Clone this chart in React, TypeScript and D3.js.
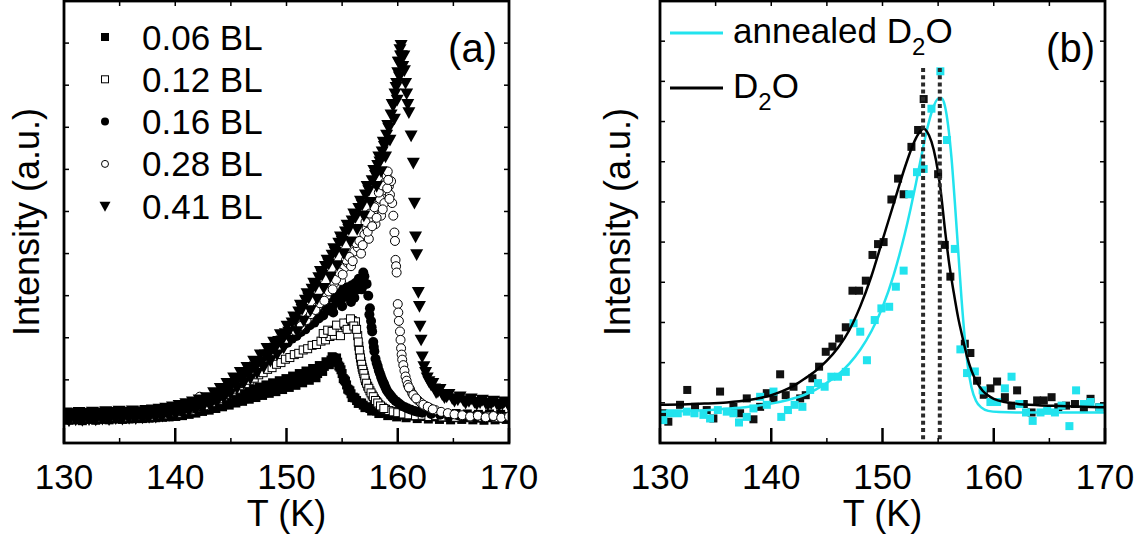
import React from 'react';
import * as d3 from 'd3';

const W = 1138;
const H = 535;
const FONT = '"Liberation Sans", Arial, Helvetica, sans-serif';
const CYAN = '#22e3ee';

const xTicksMajor = [130, 140, 150, 160, 170];
const xTicksMinor = [135, 145, 155, 165];
const legendA = ['0.06 BL', '0.12 BL', '0.16 BL', '0.28 BL', '0.41 BL'];
const markerKinds = ['sqFill', 'sqOpen', 'circFill', 'circOpen', 'triDown'];
const peakLinesB = [153.65, 155.15];

// Panel (a) TPD series: [T (K), intensity (a.u.)]
const s006: [number, number][] = [
  [130.0,0.10],[130.3,0.16],[130.6,0.08],[130.9,0.14],[131.2,0.11],[131.5,0.17],[131.8,0.09],[132.1,0.13],[132.4,0.16],[132.7,0.08],
  [133.0,0.12],[133.3,0.17],[133.6,0.10],[133.9,0.14],[134.2,0.09],[134.5,0.16],[134.8,0.12],[135.1,0.18],[135.4,0.10],[135.7,0.15],
  [136.0,0.12],[136.3,0.19],[136.6,0.11],[136.9,0.16],[137.2,0.13],[137.5,0.20],[137.8,0.12],[138.1,0.18],[138.4,0.14],[138.7,0.21],
  [139.0,0.15],[139.3,0.20],[139.6,0.16],[139.9,0.23],[140.2,0.17],[140.5,0.24],[140.8,0.20],[141.1,0.27],[141.4,0.22],[141.7,0.30],
  [142.0,0.26],[142.3,0.33],[142.6,0.29],[142.9,0.37],[143.2,0.33],[143.5,0.41],[143.8,0.37],[144.1,0.45],[144.4,0.41],[144.7,0.50],
  [145.0,0.46],[145.3,0.54],[145.6,0.50],[145.9,0.59],[146.2,0.55],[146.5,0.64],[146.8,0.59],[147.1,0.69],[147.4,0.64],[147.7,0.74],
  [148.0,0.69],[148.3,0.79],[148.6,0.74],[148.9,0.84],[149.2,0.79],[149.5,0.89],[149.8,0.84],[150.1,0.95],[150.4,0.90],[150.7,1.01],
  [151.0,0.96],[151.3,1.07],[151.6,1.02],[151.9,1.13],[152.2,1.08],[152.5,1.19],[152.8,1.15],[153.1,1.27],[153.4,1.32],[153.7,1.40],
  [154.0,1.47],[154.2,1.53],[154.4,1.49],[154.6,1.42],[154.8,1.30],[155.0,1.15],[155.2,1.00],[155.4,0.88],[155.6,0.76],[155.8,0.67],
  [156.0,0.59],[156.3,0.51],[156.6,0.45],[156.9,0.40],[157.2,0.35],[157.5,0.32],[157.8,0.29],[158.1,0.26],[158.5,0.24],[158.9,0.21],
  [159.3,0.22],[159.7,0.18],[160.1,0.20],[160.5,0.16],[161.0,0.18],[161.5,0.14],[162.0,0.17],[162.5,0.13],[163.0,0.16],[163.5,0.12],
  [164.0,0.15],[164.5,0.11],[165.0,0.14],[165.5,0.10],[166.0,0.15],[166.5,0.11],[167.0,0.13],[167.5,0.09],[168.0,0.14],[168.5,0.10],
  [169.0,0.13],[169.5,0.09],[170.0,0.12],
];
const s006x: [number, number][] = [
  [130.15,0.20],[130.45,0.04],[130.75,0.22],[131.05,0.05],[131.35,0.21],[131.65,0.03],[131.95,0.19],[132.25,0.06],[132.55,0.23],[132.85,0.04],
  [133.15,0.20],[133.45,0.06],[133.75,0.22],[134.05,0.05],[134.35,0.21],[134.65,0.07],[134.95,0.24],[135.25,0.06],[135.55,0.22],[135.85,0.07],
  [136.15,0.25],[136.45,0.08],[136.75,0.23],[137.05,0.08],[137.35,0.26],[137.65,0.09],[137.95,0.25],[138.25,0.10],[138.55,0.27],[138.85,0.11],
  [139.15,0.28],[139.45,0.12],[139.75,0.30],[140.05,0.13],[140.35,0.32],[140.65,0.15],[140.95,0.34],[141.25,0.18],[141.55,0.37],[141.85,0.21],
  [142.15,0.41],[142.45,0.25],[142.75,0.45],[143.05,0.28],[143.35,0.50],[143.65,0.32],[143.95,0.54],[144.25,0.36],[144.55,0.59],[144.85,0.40],
  [145.15,0.63],[145.45,0.45],[145.75,0.68],[146.05,0.49],[146.35,0.73],[146.65,0.54],[146.95,0.78],[147.25,0.58],[147.55,0.83],[147.85,0.63],
  [148.15,0.88],[148.45,0.68],[148.75,0.93],[149.05,0.72],[149.35,0.98],[149.65,0.77],[149.95,1.03],[150.25,0.82],[150.55,1.09],[150.85,0.87],
  [151.15,1.15],[151.45,0.93],[151.75,1.21],[152.05,0.99],[152.35,1.27],[152.65,1.05],[152.95,1.34],[153.25,1.20],[153.55,1.43],[153.85,1.36],
  [154.1,1.55],[154.3,1.42],[154.5,1.52],[154.7,1.33],[154.9,1.24],[155.1,1.03],[155.3,0.97],[155.5,0.78],[155.7,0.74],[155.9,0.58],
  [156.15,0.57],[156.45,0.44],[156.75,0.45],[157.05,0.34],[157.35,0.36],[157.65,0.26],[157.95,0.31],[158.3,0.20],[158.7,0.27],[159.1,0.15],
  [159.5,0.25],[159.9,0.12],[160.3,0.23],[160.75,0.10],[161.25,0.22],[161.75,0.08],[162.25,0.21],[162.75,0.07],[163.25,0.20],[163.75,0.06],
  [164.25,0.19],[164.75,0.05],[165.25,0.20],[165.75,0.06],[166.25,0.19],[166.75,0.05],[167.25,0.18],[167.75,0.04],[168.25,0.19],[168.75,0.05],
  [169.25,0.18],[169.75,0.06],
];

const s012: [number, number][] = [
  [130.1,0.14],[130.7,0.09],[131.3,0.15],[131.9,0.11],[132.5,0.17],[133.1,0.10],[133.7,0.15],[134.3,0.12],[134.9,0.18],[135.5,0.11],
  [136.1,0.16],[136.7,0.13],[137.3,0.19],[137.9,0.14],[138.5,0.20],[139.1,0.17],[139.7,0.22],[140.3,0.21],[140.9,0.27],[141.5,0.28],
  [142.1,0.34],[142.7,0.38],[143.3,0.46],[143.9,0.52],[144.3,0.60],[144.7,0.66],[145.1,0.73],[145.5,0.78],[145.9,0.86],[146.3,0.91],
  [146.7,0.99],[147.1,1.04],[147.5,1.12],[147.9,1.17],[148.3,1.25],[148.7,1.29],[149.1,1.37],[149.5,1.41],[149.9,1.49],[150.3,1.53],
  [150.7,1.60],[151.1,1.63],[151.5,1.71],[151.9,1.74],[152.3,1.82],[152.7,1.84],[153.1,1.92],[153.5,1.95],[153.9,2.03],[154.3,2.06],
  [154.7,2.15],[155.0,2.20],[155.3,2.28],[155.6,2.35],[155.9,2.41],[156.2,2.38],[156.4,2.05],[156.5,1.80],[156.6,1.60],[156.7,1.44],
  [156.8,1.30],[156.9,1.20],[157.0,1.10],[157.1,0.98],[157.3,0.85],[157.5,0.74],[157.7,0.64],[157.9,0.55],[158.1,0.48],[158.3,0.41],
  [158.6,0.35],[158.9,0.30],[159.2,0.27],[159.6,0.24],[160.0,0.22],[160.5,0.19],[161.0,0.17],[161.6,0.15],[162.2,0.16],[162.8,0.13],
  [163.4,0.15],[164.0,0.12],[164.6,0.14],[165.2,0.11],[165.8,0.14],[166.4,0.10],[167.0,0.13],[167.6,0.11],[168.2,0.14],[168.8,0.10],
  [169.4,0.13],[170.0,0.11],
];
const s012x: [number, number][] = [
  [153.3,2.10],[153.7,2.18],[154.1,2.15],[154.5,2.30],[154.85,2.05],[155.15,2.35],[155.45,2.20],[155.75,2.45],[156.05,2.28],[156.3,2.20],
  [156.45,1.90],[156.55,1.70],[156.65,1.52],[156.75,1.37],[156.85,1.25],[156.95,1.15],[157.05,1.04],[157.2,0.92],[157.4,0.80],[157.6,0.69],
  [157.8,0.60],[158.0,0.51],[158.2,0.45],[158.45,0.38],[158.75,0.32],
];

const s016: [number, number][] = [
  [130.2,0.12],[130.8,0.17],[131.4,0.10],[132.0,0.15],[132.6,0.12],[133.2,0.18],[133.8,0.11],[134.4,0.16],[135.0,0.13],[135.6,0.19],
  [136.2,0.12],[136.8,0.17],[137.4,0.14],[138.0,0.20],[138.6,0.16],[139.2,0.22],[139.8,0.20],[140.4,0.26],[141.0,0.27],[141.6,0.33],
  [142.2,0.37],[142.8,0.45],[143.4,0.52],[143.9,0.62],[144.4,0.70],[144.9,0.81],[145.3,0.88],[145.7,0.98],[146.1,1.05],[146.5,1.15],
  [146.9,1.22],[147.3,1.32],[147.7,1.39],[148.1,1.49],[148.5,1.56],[148.9,1.66],[149.3,1.72],[149.7,1.82],[150.1,1.88],[150.5,1.98],
  [150.9,2.04],[151.3,2.14],[151.7,2.20],[152.1,2.30],[152.5,2.36],[152.9,2.46],[153.3,2.53],[153.7,2.65],[154.1,2.72],[154.5,2.85],
  [154.9,2.90],[155.3,2.98],[155.7,3.02],[156.0,3.10],[156.3,3.14],[156.6,3.25],[156.8,3.36],[157.0,3.46],[157.2,3.28],[157.35,3.00],
  [157.5,2.70],[157.6,2.40],[157.7,2.15],[157.8,1.90],[157.9,1.68],[158.0,1.50],[158.2,1.32],[158.4,1.15],[158.6,1.00],[158.8,0.88],
  [159.0,0.76],[159.3,0.65],[159.6,0.55],[160.0,0.46],[160.4,0.38],[160.9,0.32],[161.5,0.26],[162.2,0.22],[163.0,0.19],[163.8,0.17],
  [164.6,0.14],[165.4,0.16],[166.2,0.12],[167.0,0.15],[167.8,0.11],[168.6,0.14],[169.4,0.10],[170.0,0.13],
];
const s016x: [number, number][] = [
  [143.1,0.50],[143.6,0.58],[144.1,0.68],[144.6,0.78],[145.1,0.86],[145.5,0.96],[145.9,1.04],[146.3,1.13],[146.7,1.22],[147.1,1.30],
  [147.5,1.40],[147.9,1.47],[148.3,1.56],[148.7,1.64],[149.1,1.74],[149.5,1.80],[149.9,1.92],[150.3,1.97],[150.7,2.08],[151.1,2.12],
  [151.5,2.24],[151.9,2.28],[152.3,2.55],[152.7,2.60],[153.1,2.75],[153.5,2.80],[153.9,2.95],[154.2,2.60],[154.3,3.00],[154.7,3.05],
  [155.0,2.75],[155.1,3.15],[155.5,3.20],[155.8,2.85],[155.9,3.25],[156.1,2.95],[156.2,3.30],[156.5,3.40],[156.75,3.15],[156.9,3.55],
  [157.45,2.55],[157.65,2.25],[157.85,1.78],[158.1,1.40],[158.3,1.22],[158.5,1.07],[158.7,0.94],[158.9,0.82],[159.15,0.70],[159.45,0.60],
  [159.8,0.50],[160.2,0.42],[160.65,0.35],[161.2,0.29],[161.8,0.24],
];

const s028: [number, number][] = [
  [130.4,0.15],[131.0,0.10],[131.6,0.16],[132.2,0.12],[132.8,0.18],[133.4,0.11],[134.0,0.17],[134.6,0.13],[135.2,0.19],[135.8,0.12],
  [136.4,0.18],[137.0,0.14],[137.6,0.21],[138.2,0.16],[138.8,0.30],[139.4,0.24],[140.0,0.22],[140.6,0.28],[141.2,0.27],[141.8,0.34],
  [142.2,0.60],[142.8,0.40],[143.4,0.47],[144.0,0.56],[144.5,0.68],[145.0,0.80],[145.5,0.92],[146.0,1.03],[146.5,1.16],[147.0,1.27],
  [147.5,1.40],[148.0,1.51],[148.5,1.63],[149.0,1.74],[149.5,1.86],[150.0,1.97],[150.5,2.10],[151.0,2.22],[151.5,2.36],[152.0,2.48],
  [152.4,2.62],[152.8,2.74],[153.2,2.90],[153.6,3.00],[154.0,3.18],[154.3,3.30],[154.6,3.45],[154.9,3.35],[155.2,3.66],[155.5,3.78],
  [155.8,3.70],[156.1,4.05],[156.4,4.15],[156.7,4.00],[157.0,4.45],[157.2,4.60],[157.4,4.35],[157.6,4.80],[157.8,4.95],[158.0,4.70],
  [158.2,5.15],[158.4,5.30],[158.5,4.90],[158.7,5.50],[158.8,5.20],[158.9,5.70],[159.0,5.85],[159.1,5.95],[159.2,5.60],[159.3,5.40],
  [159.4,5.72],[159.5,5.20],[159.6,4.90],[159.7,4.50],[159.75,4.30],[159.8,3.85],[159.85,3.70],[159.9,3.55],[160.0,2.80],[160.05,2.60],
  [160.1,2.40],[160.2,2.15],[160.25,1.95],[160.3,1.75],[160.35,1.60],[160.4,1.48],[160.5,1.35],[160.6,1.22],[160.7,1.08],[160.8,0.98],
  [160.9,0.88],[161.1,0.78],[161.3,0.68],[161.5,0.60],[161.8,0.52],[162.1,0.45],[162.5,0.38],[162.9,0.33],[163.4,0.28],[163.9,0.24],
  [164.5,0.21],[165.1,0.18],[165.8,0.16],[166.5,0.13],[167.2,0.15],[167.9,0.11],[168.6,0.14],[169.3,0.10],[170.0,0.13],
];
const s028x: [number, number][] = [
  [143.7,0.55],[144.3,0.66],[144.8,0.75],[145.3,0.86],[145.8,0.98],[146.3,1.10],[146.8,1.22],[147.3,1.34],[147.8,1.46],[148.3,1.58],
  [148.8,1.68],[149.3,1.80],[149.8,1.92],[150.3,2.04],[150.8,2.16],[151.3,2.28],[151.8,2.42],[152.2,2.56],[152.6,2.66],[153.0,2.82],
  [153.4,2.88],[153.8,3.10],[154.15,3.15],[154.45,3.38],[154.75,3.55],[155.05,3.50],[155.35,3.85],[155.65,3.92],[155.95,3.82],[156.25,4.25],
  [156.55,4.30],[156.85,4.20],[157.1,4.75],[157.3,4.52],[157.5,4.95],[157.7,4.65],[157.9,5.10],[158.1,4.85],[158.3,5.45],[158.6,5.62],
  [158.65,5.05],[159.05,5.55],[159.15,5.75],[159.25,5.30],[161.0,0.82],[161.4,0.64],[161.65,0.56],[162.3,0.41],[162.7,0.36],[163.15,0.30],
];

const s041: [number, number][] = [
  [130.0,0.13],[130.3,0.08],[130.6,0.15],[130.9,0.11],[131.2,0.17],[131.5,0.09],[131.8,0.14],[132.1,0.12],[132.4,0.18],[132.7,0.10],
  [133.0,0.15],[133.3,0.12],[133.6,0.19],[133.9,0.11],[134.2,0.16],[134.5,0.13],[134.8,0.19],[135.1,0.12],[135.4,0.17],[135.7,0.14],
  [136.0,0.20],[136.3,0.13],[136.6,0.18],[136.9,0.15],[137.2,0.21],[137.5,0.15],[137.8,0.20],[138.1,0.17],[138.4,0.23],[138.7,0.18],
  [139.0,0.24],[139.3,0.21],[139.6,0.27],[139.9,0.24],[140.2,0.30],[140.5,0.28],[140.8,0.33],[141.1,0.31],[141.4,0.36],[141.7,0.35],
  [142.0,0.39],[142.3,0.39],[142.6,0.43],[143.0,0.45],[143.3,0.55],[143.6,0.52],[143.9,0.63],[144.2,0.64],[144.5,0.76],[144.8,0.78],
  [145.1,0.90],[145.4,0.92],[145.7,1.03],[146.0,1.02],[146.3,1.15],[146.6,1.15],[146.9,1.30],[147.2,1.31],[147.5,1.42],[147.8,1.43],
  [148.1,1.60],[148.4,1.60],[148.7,1.75],[149.0,1.76],[149.3,1.92],[149.6,1.93],[149.9,2.10],[150.2,2.14],[150.5,2.36],[150.8,2.41],
  [151.1,2.62],[151.4,2.68],[151.7,2.90],[152.0,2.95],[152.3,3.16],[152.6,3.22],[152.9,3.43],[153.2,3.49],[153.5,3.70],[153.8,3.76],
  [154.1,3.97],[154.4,4.03],[154.7,4.25],[155.0,4.30],[155.3,4.52],[155.6,4.58],[155.9,4.78],[156.2,4.86],[156.5,5.08],[156.8,5.16],
  [157.1,5.40],[157.4,5.50],[157.7,5.74],[158.0,5.86],[158.2,6.10],[158.4,6.18],[158.6,6.42],[158.8,6.55],[159.0,6.82],[159.2,6.98],
  [159.4,7.30],[159.6,7.52],[159.75,7.80],[159.9,8.05],[160.0,8.30],[160.1,8.55],[160.2,8.85],[160.3,8.95],[160.35,8.70],[160.45,8.45],
  [160.55,8.70],[160.6,8.35],[160.7,8.05],[160.8,7.80],[160.9,7.55],[161.0,7.35],[161.2,6.80],[161.4,6.15],[161.5,5.20],[161.6,4.40],
  [161.7,3.98],[161.85,3.08],[161.95,2.75],[162.0,2.28],[162.1,1.95],[162.2,1.55],[162.35,1.32],[162.5,1.18],[162.65,1.05],[162.8,0.96],
  [163.0,0.88],[163.3,0.79],[163.6,0.72],[164.0,0.65],[164.4,0.60],[164.9,0.56],[165.4,0.53],[165.9,0.51],[166.4,0.49],[166.9,0.47],
  [167.4,0.46],[167.9,0.45],[168.4,0.44],[168.9,0.43],[169.4,0.42],[169.9,0.42],
];
const s041x: [number, number][] = [
  [130.15,0.22],[130.45,0.03],[130.75,0.20],[131.05,0.05],[131.35,0.23],[131.65,0.04],[131.95,0.21],[132.25,0.06],[132.55,0.24],[132.85,0.05],
  [133.15,0.22],[133.45,0.07],[133.75,0.25],[134.05,0.06],[134.35,0.23],[134.65,0.08],[134.95,0.26],[135.25,0.07],[135.55,0.24],[135.85,0.09],
  [136.15,0.27],[136.45,0.08],[136.75,0.25],[137.05,0.10],[137.35,0.28],[137.65,0.11],[137.95,0.29],[138.25,0.12],[138.55,0.31],[138.85,0.14],
  [139.15,0.33],[139.45,0.16],[139.75,0.36],[140.05,0.19],[140.35,0.40],[140.65,0.22],[140.95,0.44],[141.25,0.26],[141.55,0.48],[141.85,0.30],
  [142.15,0.53],[142.45,0.33],[142.8,0.58],[143.15,0.40],[143.45,0.70],[143.75,0.48],[144.05,0.80],[144.35,0.57],[144.65,0.92],[144.95,0.68],
  [145.25,1.05],[145.55,0.80],[145.85,1.18],[146.15,0.92],[146.45,1.30],[146.75,1.03],[147.05,1.45],[147.35,1.16],[147.65,1.60],[147.95,1.30],
  [148.25,1.75],[148.55,1.45],[148.85,1.90],[149.15,1.60],[149.45,2.08],[149.75,1.76],[150.05,2.28],[150.35,1.95],[150.65,2.50],[150.95,2.15],
  [151.25,2.78],[151.55,2.40],[151.85,3.05],[152.15,2.65],[152.45,3.30],[152.75,2.92],[153.05,3.58],[153.35,3.18],[153.65,3.85],[153.95,3.45],
  [154.25,4.12],[154.55,3.72],[154.85,4.40],[155.15,4.00],[155.45,4.68],[155.75,4.28],[156.05,4.95],[156.35,4.58],[156.65,5.25],[156.95,4.90],
  [157.25,5.60],[157.55,5.22],[157.85,5.98],[158.1,5.60],[158.3,6.30],[158.5,5.95],[158.7,6.65],[158.9,6.30],[159.1,7.05],[159.3,6.70],
  [159.5,7.55],[159.7,7.20],[159.85,7.95],[159.95,7.65],[160.05,8.55],[160.15,8.20],[160.25,8.70],[163.15,0.92],[163.45,0.70],[163.8,0.78],
  [164.2,0.58],[164.6,0.66],[165.1,0.50],[165.6,0.60],[166.1,0.45],[166.6,0.55],[167.1,0.42],[167.6,0.52],[168.1,0.40],[168.6,0.50],
  [169.1,0.38],[169.6,0.48],[170.0,0.38],
];

const seriesA = [s006.concat(s006x), s012.concat(s012x), s016.concat(s016x), s028.concat(s028x), s041.concat(s041x)];

// Panel (b) measured points and fits
const d2oPts: [number, number][] = [
  [130.3,0.74],[130.75,0.53],[131.8,0.95],[132.45,1.32],[133.15,0.90],[134.2,0.82],[134.8,0.61],[135.4,1.28],[136.6,0.90],[137.2,0.74],
  [137.8,1.11],[138.4,0.59],[139.0,0.90],[139.6,1.24],[140.2,1.11],[140.8,1.71],[141.3,1.19],[142.0,1.40],[142.6,1.11],[143.1,1.19],
  [143.7,1.61],[144.3,1.90],[144.9,2.27],[145.5,2.40],[146.1,2.60],[146.7,2.88],[147.3,3.79],[147.9,3.79],[148.5,4.04],[149.1,4.68],
  [149.6,4.95],[150.1,5.00],[150.8,6.06],[151.4,6.58],[151.9,6.19],[152.6,7.37],[153.2,7.79],[153.7,8.56],[155.0,6.69],[155.6,4.93],
  [156.1,4.14],[157.4,2.47],[157.9,2.24],[158.5,1.55],[159.1,1.20],[159.7,1.36],[160.3,1.53],[161.0,1.14],[161.6,0.93],[162.1,1.31],
  [162.7,0.97],[163.4,0.76],[163.9,1.06],[164.5,1.06],[165.2,1.14],[165.8,0.89],[166.5,0.93],[167.3,0.97],[168.1,0.85],[168.7,1.10],
  [169.5,0.89],
];

const annealedPts: [number, number][] = [
  [130.3,0.57],[130.9,0.74],[131.6,0.74],[132.4,0.78],[133.1,0.74],[133.9,0.70],[134.5,0.61],[135.2,0.82],[136.0,0.78],[136.6,0.74],
  [137.1,0.51],[137.8,0.65],[138.4,0.86],[139.0,1.15],[139.6,0.95],[140.2,1.28],[140.9,0.65],[141.5,0.82],[142.1,0.95],[142.8,0.90],
  [143.5,1.32],[144.2,1.49],[144.8,1.40],[145.4,1.65],[146.0,1.65],[146.7,1.77],[147.4,2.98],[148.0,2.77],[148.6,2.06],[149.3,3.06],
  [149.9,3.35],[150.6,3.39],[151.2,3.89],[151.9,4.29],[152.4,6.19],[153.1,6.74],[153.7,6.82],[154.4,8.32],[155.2,9.25],[155.8,7.54],
  [156.5,4.83],[157.0,2.33],[157.6,1.74],[158.3,1.78],[159.0,1.31],[159.7,1.02],[160.3,1.02],[161.0,1.36],[161.6,1.65],[162.3,0.97],
  [162.9,0.76],[163.5,0.55],[164.2,0.76],[164.8,0.80],[165.5,0.76],[166.1,0.93],[166.8,0.42],[167.4,1.31],[168.1,0.97],[168.7,1.02],
  [169.5,0.89],
];

const d2oFit: [number, number][] = [
  [130,0.95],[132,0.96],[134,0.98],[136,1.01],[138,1.07],[139,1.12],[140,1.19],[141,1.29],[142,1.42],[143,1.60],[144,1.80],[145,2.05],
  [146,2.37],[147,2.80],[148,3.40],[149,4.15],[150,5.05],[151,5.95],[152,6.85],[152.5,7.25],[153,7.58],[153.4,7.76],[153.7,7.82],
  [154.0,7.75],[154.4,7.50],[154.8,7.05],[155.2,6.35],[155.6,5.35],[156.0,4.45],[156.4,3.75],[156.8,3.12],[157.2,2.62],[157.6,2.15],
  [158.0,1.80],[158.5,1.50],[159,1.30],[159.5,1.18],[160,1.10],[161,1.02],[162,0.98],[164,0.94],[166,0.92],[168,0.90],[170,0.89],
];

const annealedFit: [number, number][] = [
  [130,0.78],[133,0.80],[136,0.85],[138,0.90],[140,0.98],[141.5,1.07],[143,1.20],[144,1.33],[145,1.50],[146,1.70],[147,1.97],
  [148,2.32],[149,2.78],[150,3.38],[151,4.18],[152,5.20],[152.5,5.80],[153,6.45],[153.5,7.15],[154,7.80],[154.5,8.30],[155,8.57],
  [155.3,8.58],[155.6,8.40],[155.9,7.90],[156.2,7.10],[156.5,6.00],[156.8,4.80],[157.1,3.60],[157.4,2.60],[157.7,1.85],[158.0,1.38],
  [158.4,1.05],[158.9,0.88],[159.5,0.80],[160.5,0.77],[162,0.76],[166,0.76],[170,0.76],
];

const A = { left: 64, right: 509, top: 1, bottom: 443 };
const B = { left: 660, right: 1105, top: 1, bottom: 443 };

const xA = d3.scaleLinear().domain([130, 170]).range([A.left, A.right]);
const yA = d3.scaleLinear().domain([-0.5, 10]).range([A.bottom, A.top]);
const xB = d3.scaleLinear().domain([130, 170]).range([B.left, B.right]);
const yB = d3.scaleLinear().domain([0, 11]).range([B.bottom, B.top]);

function Marker({ kind, x, y, s }: { kind: string; x: number; y: number; s: number }) {
  if (kind === 'sqFill') return <rect x={x - s / 2} y={y - s / 2} width={s} height={s} fill="#000" />;
  if (kind === 'sqOpen')
    return <rect x={x - s / 2 + 0.5} y={y - s / 2 + 0.5} width={s - 1} height={s - 1} fill="#fff" stroke="#000" strokeWidth={1} />;
  if (kind === 'circFill') return <circle cx={x} cy={y} r={s / 2} fill="#000" />;
  if (kind === 'circOpen') return <circle cx={x} cy={y} r={s / 2 - 0.5} fill="#fff" stroke="#000" strokeWidth={1} />;
  const h = s / 2;
  return <path d={`M${x - h},${y - h * 0.8}L${x + h},${y - h * 0.8}L${x},${y + h}Z`} fill="#000" />;
}

const markerSize: Record<string, number> = { sqFill: 9, sqOpen: 9, circFill: 10, circOpen: 10, triDown: 13 };

function Frame({ P, x, y, yTicks }: { P: typeof A; x: d3.ScaleLinear<number, number>; y: d3.ScaleLinear<number, number>; yTicks: number[] }) {
  return (
    <g>
      {xTicksMajor.map((t) => (
        <line key={'M' + t} x1={x(t)} x2={x(t)} y1={P.bottom} y2={P.bottom - 15} stroke="#000" strokeWidth={2.5} />
      ))}
      {xTicksMinor.map((t) => (
        <line key={'m' + t} x1={x(t)} x2={x(t)} y1={P.bottom} y2={P.bottom - 5} stroke="#000" strokeWidth={1.5} />
      ))}
      {[...xTicksMajor, ...xTicksMinor].map((t) => (
        <line key={'t' + t} x1={x(t)} x2={x(t)} y1={P.top} y2={P.top + 5} stroke="#000" strokeWidth={1.5} />
      ))}
      {yTicks.map((t) => (
        <g key={'y' + t}>
          <line x1={P.left} x2={P.left + 5} y1={y(t)} y2={y(t)} stroke="#000" strokeWidth={1.5} />
          <line x1={P.right} x2={P.right - 5} y1={y(t)} y2={y(t)} stroke="#000" strokeWidth={1.5} />
        </g>
      ))}
      <rect x={P.left} y={P.top} width={P.right - P.left} height={P.bottom - P.top} fill="none" stroke="#000" strokeWidth={2.8} />
      {xTicksMajor.map((t) => (
        <text key={'l' + t} x={x(t)} y={489} textAnchor="middle" fontSize={35} fontFamily={FONT}>
          {t}
        </text>
      ))}
      <text x={(P.left + P.right) / 2} y={526} textAnchor="middle" fontSize={36} fontFamily={FONT}>
        T (K)
      </text>
    </g>
  );
}

export default function App() {
  const lineB = d3
    .line<[number, number]>()
    .x((d) => xB(d[0]))
    .y((d) => yB(d[1]))
    .curve(d3.curveMonotoneX);
  const yTicksA = d3.range(0, 10);
  const yTicksB = d3.range(1, 11);

  return (
    <svg width={W} height={H} style={{ position: 'absolute', left: 0, top: 0, background: '#fff' }}>
      <rect x={0} y={0} width={W} height={H} fill="#fff" />
      <defs>
        <clipPath id="clipA">
          <rect x={A.left} y={A.top} width={A.right - A.left} height={A.bottom - A.top} />
        </clipPath>
        <clipPath id="clipB">
          <rect x={B.left} y={B.top} width={B.right - B.left} height={B.bottom - B.top} />
        </clipPath>
      </defs>
      {/* Panel (a) */}
      <g clipPath="url(#clipA)">
        {seriesA.map((s, i) => (
          <g key={'sa' + i}>
            {s.map((d, j) => (
              <Marker key={j} kind={markerKinds[i]} x={xA(d[0])} y={yA(d[1])} s={markerSize[markerKinds[i]]} />
            ))}
          </g>
        ))}
      </g>
      <Frame P={A} x={xA} y={yA} yTicks={yTicksA} />
      {legendA.map((lab, i) => {
        const cy = 37 + 42.3 * i;
        return (
          <g key={'lg' + i}>
            <Marker kind={markerKinds[i]} x={105} y={cy} s={i === 4 ? 11 : 8} />
            <text x={142} y={cy + 12.5} fontSize={35} fontFamily={FONT}>
              {lab}
            </text>
          </g>
        );
      })}
      <text x={497} y={62} textAnchor="end" fontSize={40} fontFamily={FONT}>
        (a)
      </text>
      <text transform={`translate(39,222) rotate(-90)`} textAnchor="middle" fontSize={36} fontFamily={FONT}>
        Intensity (a.u.)
      </text>

      {/* Panel (b) */}
      <g clipPath="url(#clipB)">
        {d2oPts.map((d, j) => (
          <rect key={'k' + j} x={xB(d[0]) - 4} y={yB(d[1]) - 4} width={8} height={8} fill="#111" />
        ))}
        {annealedPts.map((d, j) => (
          <rect key={'c' + j} x={xB(d[0]) - 4} y={yB(d[1]) - 4} width={8} height={8} fill={CYAN} />
        ))}
        <path d={lineB(annealedFit) || ''} fill="none" stroke={CYAN} strokeWidth={2.5} />
        <path d={lineB(d2oFit) || ''} fill="none" stroke="#000" strokeWidth={2.5} />
        {peakLinesB.map((t) => (
          <line key={'p' + t} x1={xB(t)} x2={xB(t)} y1={68} y2={B.bottom} stroke="#2a2a2a" strokeWidth={4} strokeDasharray="4,3.2" />
        ))}
      </g>
      <Frame P={B} x={xB} y={yB} yTicks={yTicksB} />
      <line x1={670} x2={723} y1={33} y2={33} stroke={CYAN} strokeWidth={3} />
      <text x={733} y={43} fontSize={35} fontFamily={FONT}>
        annealed D<tspan fontSize={24} dy={12}>2</tspan>
        <tspan dy={-12}>O</tspan>
      </text>
      <line x1={670} x2={723} y1={88} y2={88} stroke="#000" strokeWidth={3} />
      <text x={733} y={98} fontSize={35} fontFamily={FONT}>
        D<tspan fontSize={24} dy={12}>2</tspan>
        <tspan dy={-12}>O</tspan>
      </text>
      <text x={1095} y={62} textAnchor="end" fontSize={40} fontFamily={FONT}>
        (b)
      </text>
      <text transform={`translate(630,222) rotate(-90)`} textAnchor="middle" fontSize={36} fontFamily={FONT}>
        Intensity (a.u.)
      </text>
    </svg>
  );
}
